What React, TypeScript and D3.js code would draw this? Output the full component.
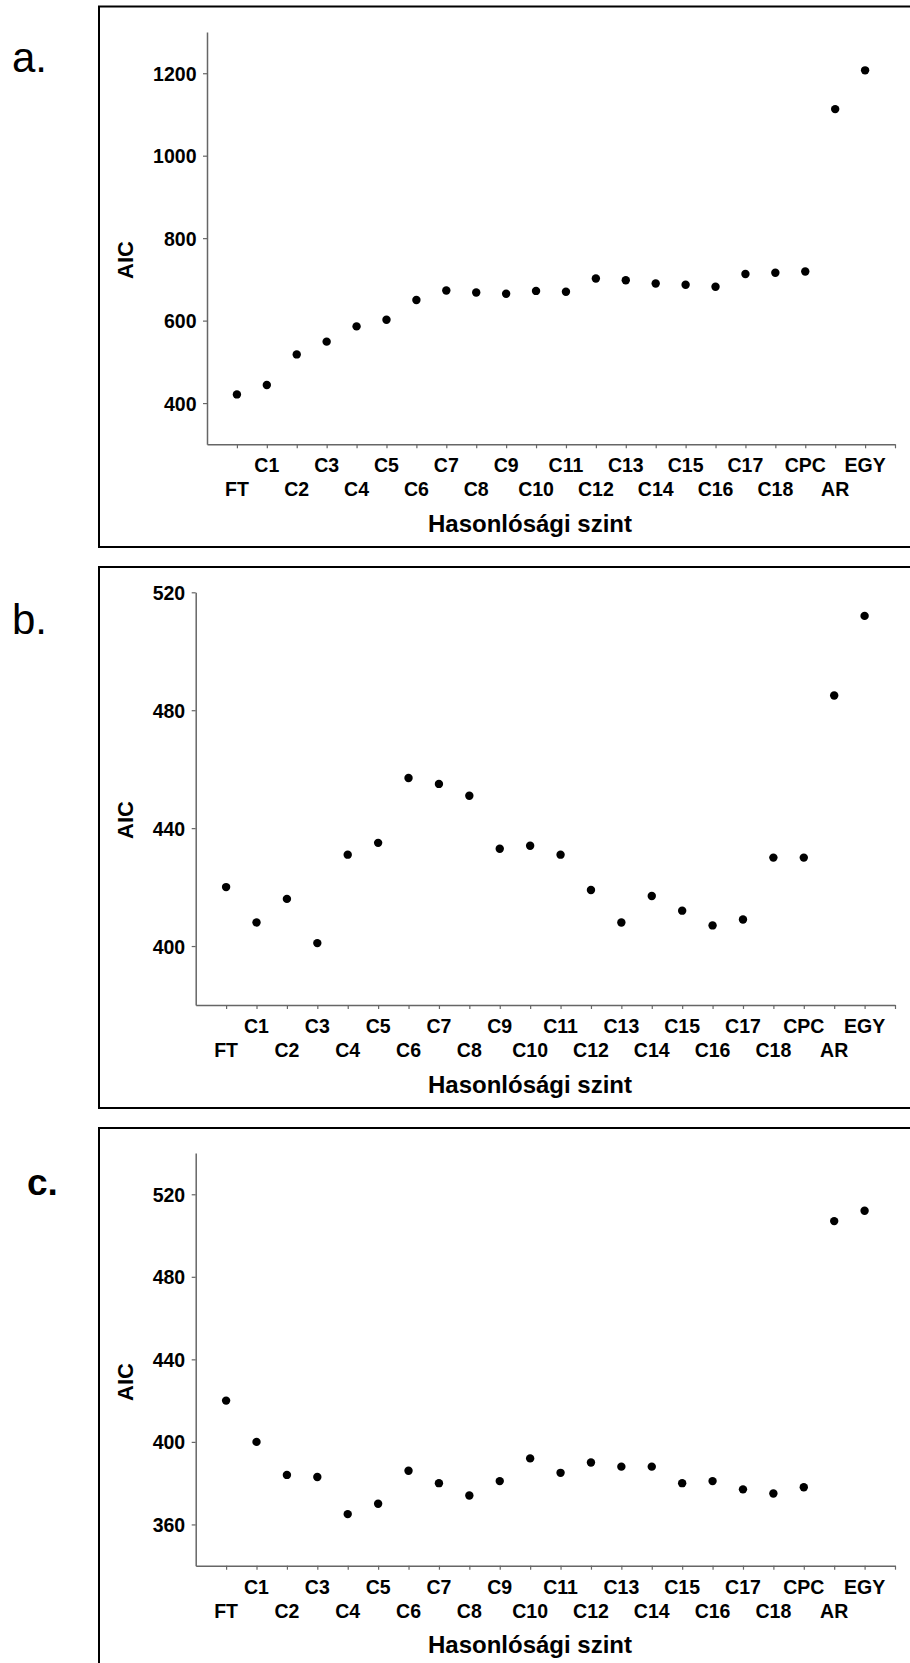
import React, { useEffect, useRef } from "react";
import * as d3 from "d3";

const categories = [
  "FT", "C1", "C2", "C3", "C4", "C5", "C6", "C7", "C8", "C9", "C10",
  "C11", "C12", "C13", "C14", "C15", "C16", "C17", "C18", "CPC", "AR", "EGY",
];

const aicA = [421, 444, 518, 549, 586, 602, 650, 673, 668, 665, 672, 670, 702, 698, 690, 687, 682, 713, 716, 719, 1113, 1207];
const aicB = [420, 408, 416, 401, 431, 435, 457, 455, 451, 433, 434, 431, 419, 408, 417, 412, 407, 409, 430, 430, 485, 512];
const aicC = [420, 400, 384, 383, 365, 370, 386, 380, 374, 381, 392, 385, 390, 388, 388, 380, 381, 377, 375, 378, 507, 512];

const ticksA = [400, 600, 800, 1000, 1200];
const ticksB = [400, 440, 480, 520];
const ticksC = [360, 400, 440, 480, 520];

const yTitle = "AIC";
const xTitle = "Hasonlósági szint";

const FONT = "'Liberation Sans', Arial, Helvetica, sans-serif";

const W = 910;
const H = 1663;

const panels = [
  {
    letter: "a.", letterX: 12, letterY: 72, letterSize: 42, letterWeight: "normal",
    boxTop: 6.5, boxH: 540.5,
    left: 207, right: 895, top: 32, bottom: 444.3,
    domain: [300, 1300], ticks: ticksA, values: aicA, aicY: 260,
  },
  {
    letter: "b.", letterX: 12, letterY: 634, letterSize: 42, letterWeight: "normal",
    boxTop: 567, boxH: 541,
    left: 195.7, right: 895, top: 592.3, bottom: 1005,
    domain: [380, 520], ticks: ticksB, values: aicB, aicY: 820,
  },
  {
    letter: "c.", letterX: 27, letterY: 1195, letterSize: 37, letterWeight: "bold",
    boxTop: 1128, boxH: 700,
    left: 195.7, right: 895, top: 1153, bottom: 1565.7,
    domain: [340, 540], ticks: ticksC, values: aicC, aicY: 1382,
  },
];

const App = () => {
  const svgRef = useRef(null);

  useEffect(() => {
    if (!svgRef.current) return;
    const svg = d3.select(svgRef.current);
    svg.selectAll("*").remove();

    const tickFs = 19.5;
    const axisColor = "#666";

    panels.forEach((p) => {
      const g = svg.append("g");

      // outer frame (runs off the right edge like the original)
      g.append("rect")
        .attr("x", 99).attr("y", p.boxTop)
        .attr("width", 900).attr("height", p.boxH)
        .attr("fill", "none").attr("stroke", "#000").attr("stroke-width", 2);

      g.append("text")
        .attr("x", p.letterX).attr("y", p.letterY)
        .attr("font-family", FONT).attr("font-size", p.letterSize)
        .attr("font-weight", p.letterWeight)
        .text(p.letter);

      const x = d3.scaleLinear().domain([0, categories.length + 1]).range([p.left, p.right]);
      const y = d3.scaleLinear().domain(p.domain).range([p.bottom, p.top]);

      // y axis
      const yAxis = g.append("g")
        .attr("transform", `translate(${p.left},0)`)
        .call(d3.axisLeft(y).tickValues(p.ticks).tickFormat(d3.format("d"))
          .tickSize(4).tickSizeOuter(0).tickPadding(6.5));
      yAxis.select(".domain").attr("stroke", axisColor).attr("stroke-width", 1.5);
      yAxis.selectAll(".tick line").attr("stroke", axisColor).attr("stroke-width", 1.2);
      yAxis.selectAll(".tick text")
        .attr("font-family", FONT).attr("font-size", tickFs).attr("font-weight", "bold")
        .attr("fill", "#000").attr("dy", "0.36em");

      // x axis, ticks only
      const xAxis = g.append("g")
        .attr("transform", `translate(0,${p.bottom})`)
        .call(d3.axisBottom(x).tickValues(d3.range(1, categories.length + 2)).tickSize(4).tickSizeOuter(0).tickFormat(() => ""));
      xAxis.select(".domain").attr("stroke", axisColor).attr("stroke-width", 1.5);
      xAxis.selectAll(".tick line").attr("stroke", axisColor).attr("stroke-width", 1.2);

      // staggered category labels
      g.selectAll(".cat")
        .data(categories)
        .join("text")
        .attr("class", "cat")
        .attr("x", (d, i) => x(i + 1))
        .attr("y", (d, i) => p.bottom + (i % 2 === 1 ? 21 : 45) + 0.358 * tickFs)
        .attr("text-anchor", "middle")
        .attr("font-family", FONT).attr("font-size", tickFs).attr("font-weight", "bold")
        .text((d) => d);

      // axis titles
      g.append("text")
        .attr("x", 530).attr("y", p.bottom + 79 + 0.358 * 24)
        .attr("text-anchor", "middle")
        .attr("font-family", FONT).attr("font-size", 24).attr("font-weight", "bold")
        .text(xTitle);

      g.append("text")
        .attr("transform", `translate(${125 + 0.358 * 22},${p.aicY}) rotate(-90)`)
        .attr("text-anchor", "middle")
        .attr("font-family", FONT).attr("font-size", 22).attr("font-weight", "bold")
        .text(yTitle);

      // points
      g.selectAll(".dot")
        .data(p.values)
        .join("circle")
        .attr("class", "dot")
        .attr("cx", (d, i) => x(i + 1))
        .attr("cy", (d) => y(d))
        .attr("r", 4.2)
        .attr("fill", "#000");
    });
  }, []);

  return (
    <svg
      ref={svgRef}
      width={W}
      height={H}
      style={{ position: "absolute", left: 0, top: 0, background: "#fff" }}
    ></svg>
  );
};

export default App;
